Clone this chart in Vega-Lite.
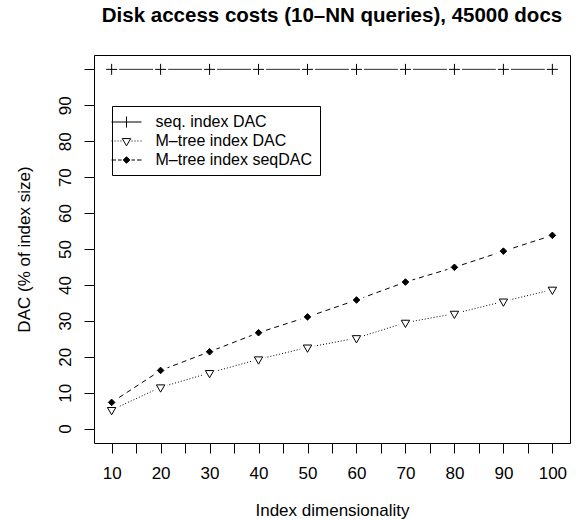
{
  "$schema": "https://vega.github.io/schema/vega-lite/v6.json",
  "autosize": {"type": "none"},
  "padding": {"left": 94, "top": 55, "right": 9, "bottom": 77},
  "width": 476,
  "height": 388,
  "background": "white",
  "title": {
    "text": "Disk access costs (10–NN queries), 45000 docs",
    "font": "Liberation Sans",
    "fontSize": 20.5,
    "fontWeight": "bold",
    "color": "black",
    "anchor": "middle",
    "baseline": "alphabetic",
    "offset": 13
  },
  "config": {
    "view": {"stroke": "black", "strokeWidth": 1, "fill": null},
    "font": "Liberation Sans"
  },
  "data": {
    "values": [
      {"dim": 10, "series": "seq. index DAC", "dac": 100},
      {"dim": 20, "series": "seq. index DAC", "dac": 100},
      {"dim": 30, "series": "seq. index DAC", "dac": 100},
      {"dim": 40, "series": "seq. index DAC", "dac": 100},
      {"dim": 50, "series": "seq. index DAC", "dac": 100},
      {"dim": 60, "series": "seq. index DAC", "dac": 100},
      {"dim": 70, "series": "seq. index DAC", "dac": 100},
      {"dim": 80, "series": "seq. index DAC", "dac": 100},
      {"dim": 90, "series": "seq. index DAC", "dac": 100},
      {"dim": 100, "series": "seq. index DAC", "dac": 100},
      {"dim": 10, "series": "M–tree index DAC", "dac": 5.2},
      {"dim": 20, "series": "M–tree index DAC", "dac": 11.5},
      {"dim": 30, "series": "M–tree index DAC", "dac": 15.5},
      {"dim": 40, "series": "M–tree index DAC", "dac": 19.3},
      {"dim": 50, "series": "M–tree index DAC", "dac": 22.6},
      {"dim": 60, "series": "M–tree index DAC", "dac": 25.2},
      {"dim": 70, "series": "M–tree index DAC", "dac": 29.5},
      {"dim": 80, "series": "M–tree index DAC", "dac": 32.0},
      {"dim": 90, "series": "M–tree index DAC", "dac": 35.4},
      {"dim": 100, "series": "M–tree index DAC", "dac": 38.7},
      {"dim": 10, "series": "M–tree index seqDAC", "dac": 7.3},
      {"dim": 20, "series": "M–tree index seqDAC", "dac": 16.2},
      {"dim": 30, "series": "M–tree index seqDAC", "dac": 21.4},
      {"dim": 40, "series": "M–tree index seqDAC", "dac": 26.7},
      {"dim": 50, "series": "M–tree index seqDAC", "dac": 31.1},
      {"dim": 60, "series": "M–tree index seqDAC", "dac": 35.8},
      {"dim": 70, "series": "M–tree index seqDAC", "dac": 40.8},
      {"dim": 80, "series": "M–tree index seqDAC", "dac": 44.9},
      {"dim": 90, "series": "M–tree index seqDAC", "dac": 49.4},
      {"dim": 100, "series": "M–tree index seqDAC", "dac": 53.8}
    ]
  },
  "encoding": {
    "x": {
      "field": "dim",
      "type": "quantitative",
      "scale": {"domain": [6.4, 103.6], "nice": false, "zero": false},
      "axis": {
        "values": [10, 15, 20, 25, 30, 35, 40, 45, 50, 55, 60, 65, 70, 75, 80, 85, 90, 95, 100],
        "labelExpr": "datum.value % 10 === 0 ? datum.label : ''",
        "grid": false,
        "domain": false,
        "tickSize": 10,
        "tickColor": "black",
        "tickWidth": 1,
        "labelFont": "Liberation Sans",
        "labelFontSize": 17,
        "labelColor": "black",
        "labelBaseline": "alphabetic",
        "labelPadding": 25,
        "labelOverlap": false,
        "labelFlush": false,
        "title": "Index dimensionality",
        "titleFont": "Liberation Sans",
        "titleFontSize": 17,
        "titleFontWeight": "normal",
        "titleColor": "black",
        "titleBaseline": "alphabetic",
        "titleX": 238,
        "titleY": 72
      }
    },
    "y": {
      "field": "dac",
      "type": "quantitative",
      "scale": {"domain": [-4, 104], "nice": false, "zero": false},
      "axis": {
        "values": [0, 10, 20, 30, 40, 50, 60, 70, 80, 90, 100],
        "labelExpr": "datum.value === 100 ? '' : datum.label",
        "grid": false,
        "domain": false,
        "tickSize": 10,
        "tickColor": "black",
        "tickWidth": 1,
        "labelFont": "Liberation Sans",
        "labelFontSize": 17,
        "labelColor": "black",
        "labelAngle": 270,
        "labelAlign": "center",
        "labelBaseline": "alphabetic",
        "labelPadding": 14,
        "labelOverlap": false,
        "labelFlush": false,
        "title": "DAC (% of index size)",
        "titleFont": "Liberation Sans",
        "titleFontSize": 17,
        "titleFontWeight": "normal",
        "titleColor": "black",
        "titleAngle": 270,
        "titleAlign": "center",
        "titleBaseline": "alphabetic",
        "titleX": -65,
        "titleY": 194
      }
    }
  },
  "layer": [
    {
      "mark": {"type": "line", "color": "black", "strokeWidth": 1},
      "encoding": {
        "detail": {"field": "series"},
        "strokeDash": {
          "field": "series",
          "type": "nominal",
          "scale": {
            "range": [[1, 2], [5, 4], [1, 0]]
          },
          "legend": null
        }
      }
    },
    {
      "mark": {"type": "point", "shape": "circle", "filled": true, "color": "white", "size": 225, "opacity": 1, "strokeWidth": 0}
    },
    {
      "mark": {"type": "point", "stroke": "black", "strokeWidth": 1, "opacity": 1, "size": 100},
      "encoding": {
        "shape": {
          "field": "series",
          "type": "nominal",
          "scale": {
            "range": ["M-0.84,-0.485L0.84,-0.485L0,0.97Z", "M0,-0.66L0.66,0L0,0.66L-0.66,0Z", "M-1.1,0H1.1M0,-1.1V1.1"]
          },
          "legend": null
        },
        "fill": {
          "field": "series",
          "type": "nominal",
          "scale": {
            "domain": ["seq. index DAC", "M–tree index DAC", "M–tree index seqDAC"],
            "range": ["transparent", "transparent", "black"]
          },
          "legend": {
            "title": null,
            "orient": "none",
            "legendX": 18,
            "legendY": 51,
            "padding": 7,
            "strokeColor": "black",
            "fillColor": "white",
            "rowPadding": 2,
            "symbolSize": 289,
            "symbolOffset": -1.5,
            "symbolStrokeWidth": 1,
            "symbolStrokeColor": "black",
            "symbolType": {"expr": "datum.value === 'seq. index DAC' ? 'M-1.765,0H1.765M0,-0.647V0.647' : datum.value === 'M–tree index DAC' ? 'M-1.765,0H-1.647M-1.412,0H-1.294M-1.059,0H-0.941M-0.706,0H-0.588M0.588,0H0.706M0.941,0H1.059M1.294,0H1.412M1.647,0H1.765M-0.494,-0.285L0.494,-0.285L0,0.571Z' : 'M-1.765,0H-1.235M-1,0H-0.588M0.588,0H1M1.235,0H1.765M0,-0.388L0.388,0L0,0.388L-0.388,0Z'"},
            "labelOffset": 20,
            "labelFont": "Liberation Sans",
            "labelFontSize": 16,
            "labelColor": "black",
            "labelBaseline": "middle",
            "labelLimit": 300
          }
        }
      }
    }
  ]
}
